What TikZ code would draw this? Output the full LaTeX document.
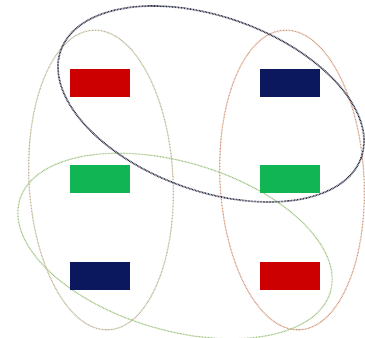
\documentclass[tikz,border=0pt]{standalone}
\begin{document}
\begin{tikzpicture}[x=1pt,y=1pt,
  blk/.style={minimum width=60pt,minimum height=28pt,inner sep=0pt,draw=none},
  dotline/.style={dash pattern=on 0.8pt off 0.7pt},
]
\definecolor{cred}{HTML}{CC0000}
\definecolor{cnavy}{HTML}{0C185E}
\definecolor{cgreen}{HTML}{12B553}
\definecolor{ctan}{HTML}{BDB593}
\definecolor{corange}{HTML}{D39A7C}
\definecolor{cdark}{HTML}{2E3048}
\definecolor{clgreen}{HTML}{9CC27E}
\useasboundingbox[fill=white] (0,0) rectangle (365,338);
% groups
\draw[ctan,dotline,line width=1.2pt] (101,158) ellipse[x radius=72,y radius=150,rotate=3];
\draw[corange,dotline,line width=1.2pt] (292,158) ellipse[x radius=72,y radius=150,rotate=3];
\draw[clgreen,dotline,line width=1.2pt] (175,92) ellipse[x radius=162,y radius=84,rotate=-16.5];
\draw[cdark,dotline,line width=1.7pt] (211,234) ellipse[x radius=159.5,y radius=87,rotate=-19.7];
% blocks
\node[blk,fill=cred]   (l1) at (100,254.5) {};
\node[blk,fill=cgreen] (l2) at (100,158.5) {};
\node[blk,fill=cnavy]  (l3) at (100,62) {};
\node[blk,fill=cnavy]  (r1) at (289.5,254.5) {};
\node[blk,fill=cgreen] (r2) at (289.5,158.5) {};
\node[blk,fill=cred]   (r3) at (289.5,62) {};
\end{tikzpicture}
\end{document}
